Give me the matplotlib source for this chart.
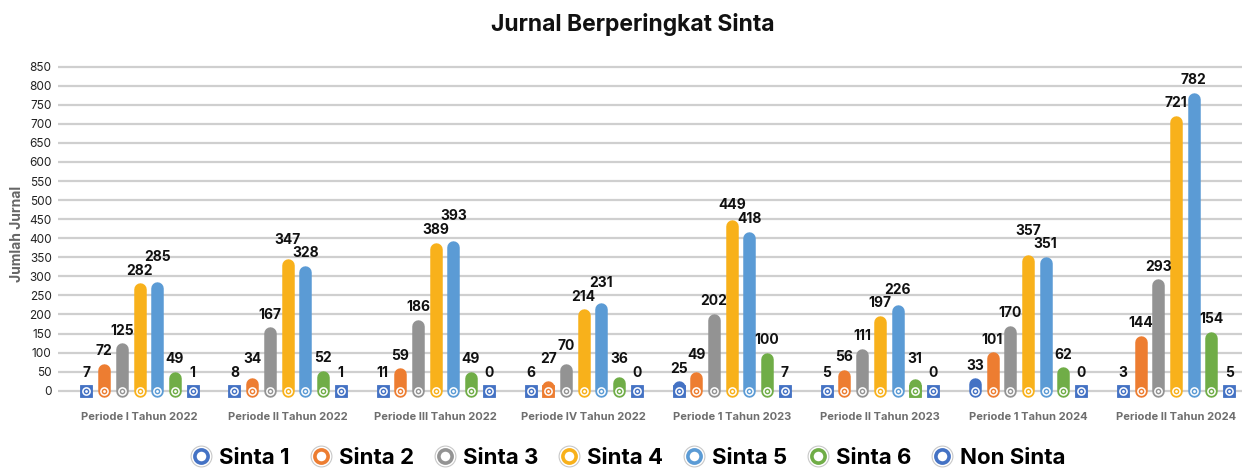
import matplotlib
matplotlib.use("Agg")
import matplotlib.pyplot as plt
from matplotlib.lines import Line2D
from matplotlib.legend_handler import HandlerTuple
import numpy as np

plt.rcParams['font.family'] = ['Inter', 'DejaVu Sans']

categories = ["Periode I Tahun 2022", "Periode II Tahun 2022", "Periode III Tahun 2022",
              "Periode IV Tahun 2022", "Periode 1 Tahun 2023", "Periode II Tahun 2023",
              "Periode 1 Tahun 2024", "Periode II Tahun 2024"]
series_names = ["Sinta 1", "Sinta 2", "Sinta 3", "Sinta 4", "Sinta 5", "Sinta 6", "Non Sinta"]
sinta1 = [7, 8, 11, 6, 25, 5, 33, 3]
sinta2 = [72, 34, 59, 27, 49, 56, 101, 144]
sinta3 = [125, 167, 186, 70, 202, 111, 170, 293]
sinta4 = [282, 347, 389, 214, 449, 197, 357, 721]
sinta5 = [285, 328, 393, 231, 418, 226, 351, 782]
sinta6 = [49, 52, 49, 36, 100, 31, 62, 154]
non_sinta = [1, 1, 0, 0, 7, 0, 0, 5]
yticks = list(range(0, 851, 50))

series = [sinta1, sinta2, sinta3, sinta4, sinta5, sinta6, non_sinta]
colors = ["#4472C4", "#ED7D31", "#939393", "#F8B11B", "#5B9BD5", "#70AD47", "#4472C4"]

W, H = 1248, 468
fig = plt.figure(figsize=(W / 100, H / 100), dpi=100)

ylo, yhi = -40, 860
px_per_unit = 0.3812
bottom_px = 390.7 + (0 - ylo) * px_per_unit
top_px = 66.7 - (yhi - 850) * px_per_unit
ax_left_px, ax_right_px = 58, 1242
ax = fig.add_axes([ax_left_px / W, (H - bottom_px) / H,
                   (ax_right_px - ax_left_px) / W, (bottom_px - top_px) / H])
group_px = 148.07
x0 = -(139.5 - ax_left_px) / group_px
x1 = 7 + (ax_right_px - 1176) / group_px
ax.set_xlim(x0, x1)
ax.set_ylim(ylo, yhi)

for s in ax.spines.values():
    s.set_visible(False)
ax.set_yticks(yticks)
ax.tick_params(axis='y', length=0, labelsize=8.5, pad=4.5, labelcolor="#222222")
ax.yaxis.grid(True, color="#cfcfcf", lw=1.6)
ax.set_axisbelow(True)
ax.set_xticks([])

ax.set_ylabel("Jumlah Jurnal", fontsize=10, fontweight='bold', color="#666666", labelpad=4)

bar_w_px = 12.5
lw_pt = bar_w_px * 72 / 100
r_units = (bar_w_px / 2) / px_per_unit
step = 17.7 / group_px
n = len(series)
label_gap_units = 5.5 / px_per_unit
label_h_units = 13.5 / px_per_unit

for gi in range(len(categories)):
    bases = [max(series[si][gi], 14) + label_gap_units for si in range(n)]
    for si in range(n - 1):
        a, b = bases[si], bases[si + 1]
        if abs(a - b) < label_h_units:
            if series[si + 1][gi] >= series[si][gi]:
                bases[si + 1] = a + label_h_units
            else:
                bases[si] = b + label_h_units
    for si in range(n):
        v = series[si][gi]
        col = colors[si]
        x = gi + (si - (n - 1) / 2) * step
        top = v - r_units
        if v < 2 * r_units:
            ax.plot([x], [0], marker='s', ms=lw_pt, color=col, mec=col,
                    mew=0.6, zorder=3)
            if top > 0:
                ax.plot([x, x], [0, top], color=col, lw=lw_pt,
                        solid_capstyle='round', zorder=3)
        else:
            ax.plot([x, x], [0, top], color=col, lw=lw_pt,
                    solid_capstyle='round', zorder=3)
        ax.plot([x], [0], marker='o', ms=5.2, mfc='none', mec='white', mew=1.1, zorder=4)
        ax.plot([x], [0], marker='o', ms=2.0, mfc='white', mec='white', mew=0, zorder=4)
        ax.text(x, bases[si], str(v), ha='center', va='bottom', fontsize=10,
                fontweight='bold', color="#111111", zorder=5)

cat_y = -(417 - 390.7) / px_per_unit
for gi, c in enumerate(categories):
    ax.text(gi, cat_y, c, ha='center', va='center', fontsize=8, fontweight='bold',
            color="#6e6e6e")

fig.suptitle("Jurnal Berperingkat Sinta", x=633 / W, y=1 - 25 / H, va='center',
             fontsize=16.5, fontweight='bold', color="#111111")

handles = []
for c in colors:
    outer = Line2D([], [], marker='o', ls='none', ms=15, mfc='white', mec='#c8c8c8', mew=0.8)
    inner = Line2D([], [], marker='o', ls='none', ms=9.5, mfc='white', mec=c, mew=2.6)
    handles.append((outer, inner))
fig.legend(handles, series_names, loc='center', bbox_to_anchor=(628 / W, 1 - 458 / H),
           ncol=7, frameon=False, prop={'size': 16, 'weight': 'bold'},
           handletextpad=0.3, columnspacing=0.9, handlelength=1.0,
           handler_map={tuple: HandlerTuple(ndivide=1)})

fig.savefig("out.png", dpi=100)
